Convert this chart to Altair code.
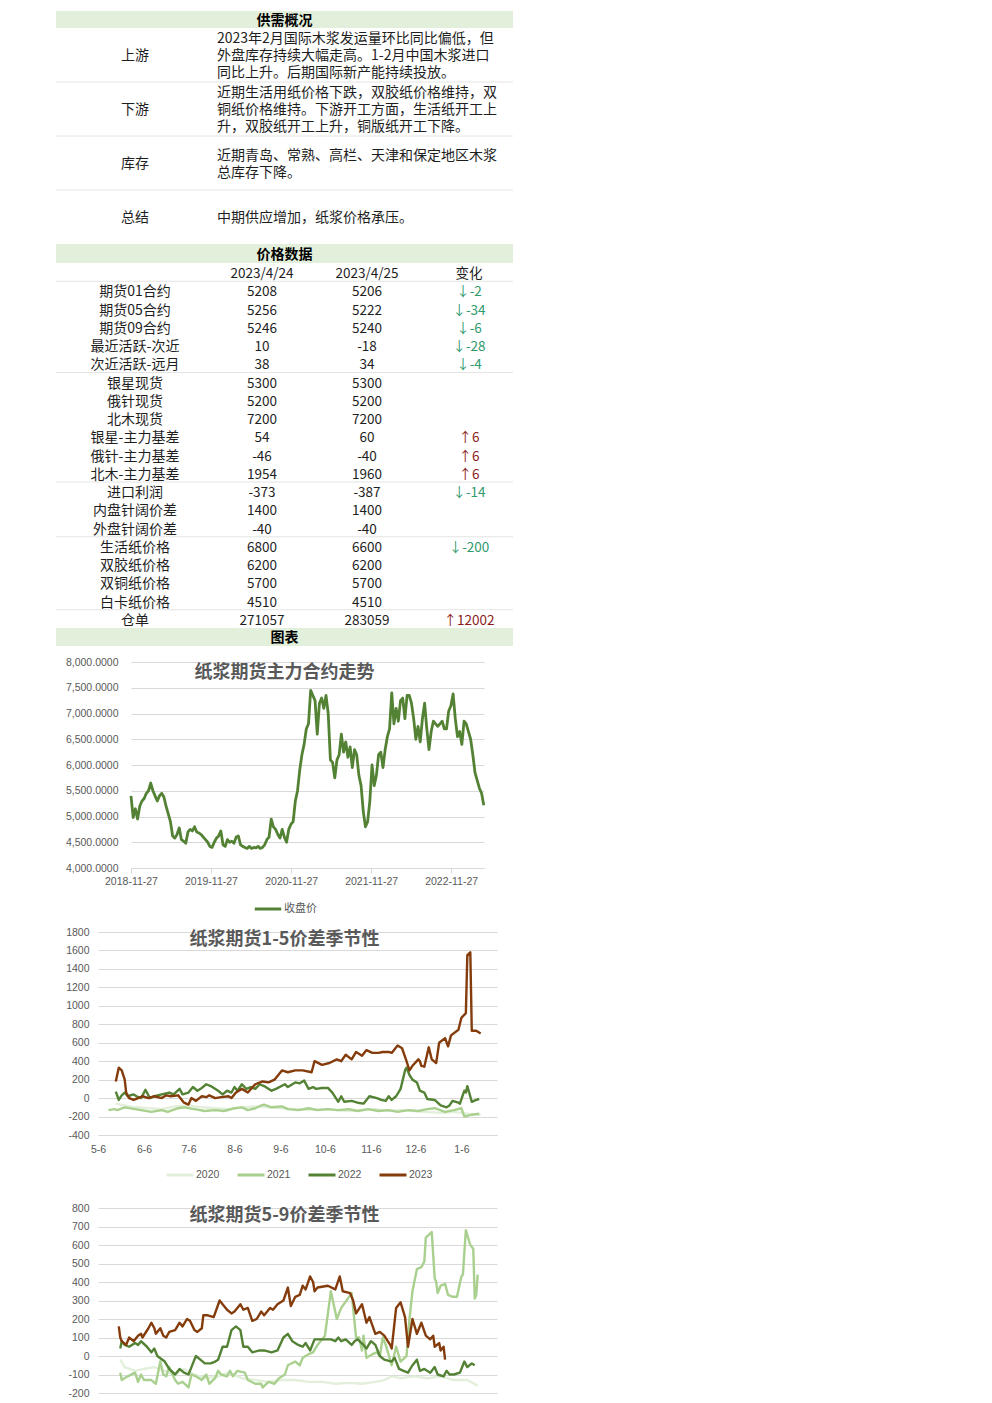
import altair as alt
import pandas as pd

W = 457
FONT = "Noto Sans CJK SC"
NUMFONT = "Liberation Sans"
TXT = "#1e1e1e"
HDR_FILL = "#e2efda"
SEP = "#e4e4e4"
GRID = "#d9d9d9"
AXTXT = "#595959"
GREEN_UP = "#8b1a1a"
GREEN_DN = "#2f9a6c"
LINE_H = 17

# ---------------- section titles ----------------
sec_titles = ["供需概况", "价格数据", "图表"]

# ---------------- supply / demand ----------------
sd_labels = ["上游", "下游", "库存", "总结"]
sd_texts = [
    "2023年2月国际木浆发运量环比同比偏低，但\n外盘库存持续大幅走高。1-2月中国木浆进口\n同比上升。后期国际新产能持续投放。",
    "近期生活用纸价格下跌，双胶纸价格维持，双\n铜纸价格维持。下游开工方面，生活纸开工上\n升，双胶纸开工上升，铜版纸开工下降。",
    "近期青岛、常熟、高栏、天津和保定地区木浆\n总库存下降。",
    "中期供应增加，纸浆价格承压。",
]

# ---------------- price table ----------------
price_head = ["2023/4/24", "2023/4/25", "变化"]
price_names = ["期货01合约", "期货05合约", "期货09合约", "最近活跃-次近", "次近活跃-远月",
               "银星现货", "俄针现货", "北木现货", "银星-主力基差", "俄针-主力基差",
               "北木-主力基差", "进口利润", "内盘针阔价差", "外盘针阔价差", "生活纸价格",
               "双胶纸价格", "双铜纸价格", "白卡纸价格", "仓单"]
price_0424 = [5208, 5256, 5246, 10, 38, 5300, 5200, 7200, 54, -46, 1954, -373, 1400, -40,
              6800, 6200, 5700, 4510, 271057]
price_0425 = [5206, 5222, 5240, -18, 34, 5300, 5200, 7200, 60, -40, 1960, -387, 1400, -40,
              6600, 6200, 5700, 4510, 283059]
price_chg = [-2, -34, -6, -28, -4, None, None, None, 6, 6, 6, -14, None, None, -200,
             None, None, None, 12002]
sep_after = [0, 5, 11, 14, 18]   # row index (0 = header row) followed by a divider

# ---------------- chart 1: main contract close ----------------
main_start = "2018-11-27"
main_close = [
    5400, 4980, 5150, 4950, 5200, 5300, 5350, 5450, 5500, 5650,
    5500, 5400, 5300, 5400, 5450, 5380, 5200, 5050, 4900, 4620,
    4580, 4650, 4780, 4550, 4520, 4480, 4700, 4750, 4720, 4800,
    4700, 4680, 4650, 4600, 4550, 4500, 4420, 4400, 4500, 4580,
    4620, 4720, 4450, 4420, 4550, 4500, 4520, 4480, 4600, 4620,
    4450, 4420, 4400, 4380, 4420, 4380, 4400, 4390, 4420, 4380,
    4400, 4450, 4550, 4600, 4950, 4800, 4750, 4650, 4580, 4750,
    4600, 4500, 4750, 4850, 4900, 5300, 5500, 5900, 6200, 6400,
    6700, 6800, 7450, 7350, 7250, 6600, 7200, 7300, 7100, 7350,
    7000, 6100, 6050, 5750, 6100, 6200, 6600, 6250, 6450, 6150,
    6350, 5950, 6300, 6200, 5800, 5600, 5100, 4800, 4900, 5300,
    6000, 5600, 5800, 6200, 6250, 5950, 6300, 6550, 6700, 7400,
    6800, 7100, 6850, 7250, 7300, 6900, 7350, 7350, 7200, 6900,
    6500, 6750, 6450, 6900, 7200, 6700, 6300, 6650, 6850, 6800,
    6750, 6800, 6850, 6700, 6700, 7050, 7150, 7380, 6900, 6550,
    6650, 6400, 6850, 6800, 6650, 6500, 6200, 5850, 5700, 5550,
    5450, 5220,
]
main_xticks = ["2018-11-27", "2019-11-27", "2020-11-27", "2021-11-27", "2022-11-27"]
main_yticks = [4000, 4500, 5000, 5500, 6000, 6500, 7000, 7500, 8000]

# ---------------- seasonal charts (x = days after 5-6) ----------------
season_years = ["2020", "2021", "2022", "2023"]
season_colors = ["#e2efda", "#a9d08e", "#548235", "#843c0c"]
season_tick_days = [0, 31, 61, 92, 123, 153, 184, 214, 245]
season_tick_labels = ["5-6", "6-6", "7-6", "8-6", "9-6", "10-6", "11-6", "12-6", "1-6"]

s15 = {
    "2020": ([12, 18, 25, 34, 43, 52, 61, 70, 79, 88, 97, 106, 115, 124, 133, 142, 151, 160, 169, 178,
              187, 196, 204, 213, 222, 231, 240, 249, 258],
             [-60, -80, -100, -110, -120, -90, -80, -100, -110, -120, -100, -90, -100, -110, -120, -130,
              -120, -130, -140, -130, -120, -140, -130, -140, -150, -160, -150, -170, -180]),
    "2021": ([7, 11, 13, 18, 25, 29, 36, 43, 47, 54, 58, 65, 72, 79, 85, 92, 97, 101, 106, 110,
              112, 117, 124, 128, 135, 142, 148, 155, 162, 169, 175, 182, 189, 196, 202, 209, 216, 222,
              227, 234, 240, 245, 247, 252, 257],
             [-130, -120, -130, -100, -120, -130, -150, -130, -150, -110, -100, -120, -140, -130, -140,
              -110, -100, -130, -110, -80, -70, -100, -90, -120, -130, -110, -130, -120, -130, -120,
              -140, -120, -140, -130, -150, -130, -140, -120, -110, -150, -130, -110, -200, -180, -170]),
    "2022": ([12, 14, 16, 18, 20, 24, 26, 29, 32, 35, 38, 43, 48, 51, 55, 57, 61, 64, 67, 70,
              73, 76, 81, 84, 87, 90, 92, 94, 97, 100, 103, 106, 109, 112, 117, 120, 126, 128, 133, 136,
              138, 139, 142, 145, 147, 151, 155, 158, 162, 164, 166, 171, 175, 179, 183, 188, 191, 194,
              196, 198, 201, 204, 207, 208, 210, 212, 215, 217, 220, 222, 227, 231, 235, 237, 239, 243,
              244, 247, 248, 249, 252, 255, 257],
             [70, -20, 30, 60, 20, 40, 20, 0, 90, 0, 20, 40, 60, 40, 100, 40, 60, 120, 80, 110,
              150, 130, 80, 40, 80, 60, 120, 80, 150, 100, 120, 100, 150, 130, 80, 100, 150, 120, 170, 160,
              180, 190, 100, 120, 100, 110, 110, 60, -40, 20, -40, -30, -50, -60, 20, 0, -20, -30, 20, -20,
              20, 100, 300, 330, 250, 200, 170, 80, 60, -10, -20, -80, -100, -80, -30, -50, -60, 80, 60, 130,
              -40, -20, -10]),
    "2023": ([12, 14, 16, 18, 19, 21, 24, 27, 30, 34, 38, 43, 46, 49, 54, 58, 61, 63, 66, 70,
              73, 75, 79, 83, 88, 90, 93, 97, 101, 106, 111, 115, 119, 124, 128, 133, 138, 144, 146, 151,
              156, 161, 164, 167, 171, 174, 178, 181, 185, 189, 192, 196, 198, 202, 205, 208, 210, 212,
              216, 217, 218, 220, 223, 225, 228, 230, 234, 236, 238, 243, 245, 248, 249, 251, 252, 255, 258],
             [180, 330, 300, 200, 60, 0, -20, 0, 20, 0, 20, 0, 30, 20, 30, -50, -70, 0, -30, 20,
              10, 30, 0, 10, 20, 0, 60, 100, 60, 150, 180, 170, 200, 300, 280, 300, 300, 280, 400, 360,
              380, 420, 400, 470, 420, 500, 460, 520, 490, 490, 500, 500, 490, 570, 540, 400, 300, 350,
              420, 400, 350, 340, 550, 420, 380, 600, 650, 560, 680, 740, 870, 920, 1550, 1580, 730, 730, 700]),
}
s15_yticks = [-400, -200, 0, 200, 400, 600, 800, 1000, 1200, 1400, 1600, 1800]

s59 = {
    "2020": ([15, 18, 25, 31, 38, 45, 52, 58, 65, 72, 81, 88, 97, 106, 115, 124, 133, 142, 151, 160,
              169, 178, 187, 193, 198, 204, 213, 222, 231, 240, 249, 256],
             [-20, -60, -80, -70, -60, -80, -100, -70, -100, -120, -110, -90, -120, -130, -140, -130,
              -130, -140, -140, -150, -145, -150, -140, -130, -110, -120, -110, -120, -110, -130, -130, -160]),
    "2021": ([15, 16, 20, 25, 27, 29, 31, 36, 39, 42, 44, 46, 48, 52, 54, 57, 61, 63, 66, 70,
              73, 75, 79, 81, 83, 87, 89, 91, 94, 99, 101, 106, 110, 111, 115, 119, 122, 126, 128, 133,
              136, 138, 142, 145, 148, 153, 157, 161, 164, 171, 174, 176, 178, 179, 181, 185, 188, 190,
              192, 194, 198, 201, 204, 208, 210, 212, 215, 218, 220, 221, 225, 227, 228, 229, 231, 234,
              236, 239, 242, 245, 246, 248, 251, 253, 254, 255, 256],
             [-90, -130, -110, -90, -140, -100, -130, -130, -150, -30, -100, -110, -60, -130, -150, -140,
              -170, -100, -110, -130, -100, -150, -120, -80, -100, -110, -80, -110, -80, -90, -130, -150,
              -150, -170, -140, -150, -120, -100, -50, -30, -50, -10, 10, 20, 60, 110, 350, 200, 260, 340,
              100, 100, 30, 110, -10, 10, 20, 0, 100, 60, -50, 50, -30, 0, 200, 350, 470, 480, 510, 640,
              670, 420, 400, 340, 380, 390, 330, 320, 320, 430, 440, 680, 600, 580, 310, 330, 440]),
    "2022": ([15, 16, 18, 21, 25, 27, 29, 33, 36, 38, 40, 45, 48, 52, 55, 58, 61, 63, 66, 69,
              72, 76, 79, 81, 84, 87, 90, 93, 96, 98, 101, 104, 109, 112, 117, 121, 125, 128, 131, 135,
              138, 140, 143, 146, 151, 157, 160, 162, 164, 167, 171, 173, 175, 179, 181, 184, 187, 190,
              193, 198, 200, 203, 206, 209, 212, 215, 217, 220, 224, 227, 229, 233, 235, 237, 240, 244,
              247, 249, 252, 254],
             [40, 80, 60, 50, 70, 60, 80, 50, 20, 40, 0, -30, -70, -100, -70, -90, -100, -60, 0, -20,
              -40, -40, -30, -20, 50, 50, 140, 160, 140, 50, 50, 20, 30, 30, 20, 30, 100, 120, 80, 60,
              50, 70, 30, 90, 90, 90, 80, 100, 80, 90, 60, 80, 90, 60, 40, 80, 60, 0, -20, -30,
              -10, -70, -80, -90, -50, -20, -80, -70, -90, -60, -100, -110, -80, -100, -100, -90,
              -30, -60, -40, -50]),
    "2023": ([14, 15, 16, 19, 21, 24, 27, 29, 30, 34, 36, 38, 39, 42, 44, 46, 48, 52, 55, 57,
              60, 62, 65, 67, 70, 71, 74, 78, 82, 84, 87, 90, 92, 96, 98, 101, 104, 107, 110, 112,
              116, 118, 121, 125, 128, 130, 133, 136, 138, 140, 143, 145, 146, 148, 155, 160, 163, 165,
              170, 172, 174, 178, 181, 183, 187, 190, 193, 197, 198, 201, 204, 207, 209, 212, 215, 218,
              221, 224, 226, 227, 230, 231, 233, 234],
             [160, 100, 80, 60, 100, 80, 110, 120, 100, 150, 180, 150, 120, 150, 110, 100, 130, 140, 180, 160,
              200, 190, 140, 130, 150, 220, 220, 210, 300, 280, 250, 230, 240, 280, 250, 260, 190, 200, 240, 220,
              260, 250, 280, 300, 370, 270, 320, 330, 380, 360, 430, 400, 350, 370, 380, 360, 430, 350,
              340, 300, 230, 280, 180, 210, 120, 130, 110, 60, 40, 260, 290, 210, 50, 200, 120, 180,
              110, 90, 110, 50, 70, 30, 50, -20]),
}
s59_yticks = [-200, -100, 0, 100, 200, 300, 400, 500, 600, 700, 800]

chart_titles = ["纸浆期货主力合约走势", "纸浆期货1-5价差季节性", "纸浆期货5-9价差季节性"]


# ======================================================================
def header(title, h):
    return alt.Chart(pd.DataFrame({"t": [title]})).mark_text(
        font=FONT, fontSize=14, fontWeight="bold", color="#000000", align="center", baseline="middle"
    ).encode(x=alt.value(W / 2), y=alt.value(h / 2 + 1), text="t:N").properties(
        width=W, height=h, view=alt.ViewBackground(fill=HDR_FILL, stroke=None))


# ---- supply / demand table
sd_df = pd.DataFrame({"row": sd_labels, "content": sd_texts,
                      "nlines": [t.count("\n") + 1 for t in sd_texts]})
sd_scale = alt.Scale(domain=sd_labels, paddingInner=0, paddingOuter=0)
sd_y = alt.Y("row:N", scale=sd_scale, axis=None, bandPosition=0.5)
sd_lab = alt.Chart(sd_df).mark_text(font=FONT, fontSize=14, color=TXT, align="center", baseline="middle",
                                    dy=1).encode(x=alt.value(79), y=sd_y, text="row:N")
sd_layers = [alt.Chart(sd_df).mark_rule(color=SEP, strokeWidth=1).transform_filter(
    alt.datum.row != sd_labels[-1]).encode(
    x=alt.value(0), x2=alt.value(W), y=alt.Y("row:N", scale=sd_scale, axis=None, bandPosition=1)), sd_lab]
for n in sorted(set(sd_df["nlines"])):
    sd_layers.append(
        alt.Chart(sd_df).transform_filter(alt.datum.nlines == n).mark_text(
            font=FONT, fontSize=14, color=TXT, align="left", baseline="middle",
            lineBreak="\n", lineHeight=LINE_H, dy=-(n - 1) * LINE_H / 2 + 1).encode(
            x=alt.value(161), y=sd_y, text="content:N"))
sd_table = alt.layer(*sd_layers).properties(width=W, height=216)

# ---- price table
rows = [{"r": 0, "label": "", "c1": price_head[0], "c2": price_head[1], "chg": price_head[2], "sign": "none"}]
for i, name in enumerate(price_names):
    c = price_chg[i]
    if c is None:
        t, s = "", "none"
    elif c > 0:
        t, s = "↑" + str(c), "up"
    else:
        t, s = "↓" + str(c), "down"
    rows.append({"r": i + 1, "label": name, "c1": str(price_0424[i]), "c2": str(price_0425[i]), "chg": t, "sign": s})
pt_df = pd.DataFrame(rows)
pt_y = alt.Y("r:O", scale=alt.Scale(paddingInner=0, paddingOuter=0), axis=None, bandPosition=0.5)
pt_base = alt.Chart(pt_df)
pt_lab = pt_base.mark_text(font=FONT, fontSize=14, color=TXT, align="center", baseline="middle", dy=2).encode(
    x=alt.value(79), y=pt_y, text="label:N")
pt_c1 = pt_base.mark_text(font=FONT, fontSize=13.5, color=TXT, align="center", baseline="middle", dy=2).encode(
    x=alt.value(206), y=pt_y, text="c1:N")
pt_c2 = pt_base.mark_text(font=FONT, fontSize=13.5, color=TXT, align="center", baseline="middle", dy=2).encode(
    x=alt.value(311), y=pt_y, text="c2:N")
pt_chg = pt_base.mark_text(font=FONT, fontSize=13.5, align="center", baseline="middle", dy=2).encode(
    x=alt.value(413), y=pt_y, text="chg:N",
    color=alt.Color("sign:N", scale=alt.Scale(domain=["up", "down", "none"], range=[GREEN_UP, GREEN_DN, TXT]),
                    legend=None))
pt_sep = alt.Chart(pd.DataFrame({"r": sep_after})).mark_rule(color=SEP, strokeWidth=1).encode(
    x=alt.value(0), x2=alt.value(W),
    y=alt.Y("r:O", scale=alt.Scale(paddingInner=0, paddingOuter=0), axis=None, bandPosition=1))
price_table = alt.layer(pt_sep, pt_lab, pt_c1, pt_c2, pt_chg).properties(width=W, height=365)


def dt(s):
    y, m, d = (int(v) for v in s.split("-"))
    return alt.DateTime(year=y, month=m, date=d)


def title_layer(text, y):
    return alt.Chart(pd.DataFrame({"t": [text]})).mark_text(
        font=FONT, fontSize=18, fontWeight="bold", color=AXTXT, align="center", baseline="middle"
    ).encode(x=alt.value(W / 2), y=alt.value(y), text="t:N")


# ---- chart 1
H1 = 274
df1 = pd.DataFrame({
    "date": pd.date_range(main_start, periods=len(main_close), freq="10D"),
    "close": main_close,
    "s": ["收盘价"] * len(main_close),
})
line1 = alt.Chart(df1).mark_line(strokeWidth=2.8, strokeJoin="round").encode(
    x=alt.X("date:T", title=None,
            scale=alt.Scale(domain=[dt("2018-11-27"), dt("2023-04-26")], range=[75, 428]),
            axis=alt.Axis(values=[dt(s) for s in main_xticks], format="%Y-%m-%d", offset=-52,
                          domainColor=GRID, tickColor=GRID, tickSize=5, labelPadding=3, grid=False,
                          labelFlush=False, labelOverlap=False,
                          labelFont=NUMFONT, labelFontSize=10.5, labelColor=AXTXT)),
    y=alt.Y("close:Q", title=None, scale=alt.Scale(domain=[4000, 8000], range=[222, 16], zero=False),
            axis=alt.Axis(values=main_yticks, format=",.4f", offset=-75, domain=False, ticks=False,
                          labelPadding=13, gridColor=GRID, labelFont=NUMFONT, labelFontSize=10.5,
                          labelColor=AXTXT)),
    color=alt.Color("s:N", scale=alt.Scale(domain=["收盘价"], range=["#548235"]),
                    legend=alt.Legend(orient="none", legendX=197, legendY=248, title=None,
                                      symbolType="stroke", symbolSize=700, symbolStrokeWidth=3,
                                      labelFont=FONT, labelFontSize=11, labelColor=AXTXT, labelOffset=1)),
)
chart1 = alt.layer(line1, title_layer(chart_titles[0], 27)).properties(width=W, height=H1)


# ---- seasonal helper
def season_df(d):
    recs = []
    for yr in season_years:
        days, vals = d[yr]
        for dd, vv in zip(days, vals):
            recs.append({"day": dd, "v": vv, "year": yr})
    return pd.DataFrame(recs)


label_expr = "".join(f"datum.value == {d} ? '{l}' : " for d, l in zip(season_tick_days, season_tick_labels)) + "''"


def season_chart(d, yticks, ydom, yrange, h, title, title_y, show_x, show_legend):
    xaxis = alt.Axis(values=season_tick_days, labelExpr=label_expr, offset=-(h - yrange[0]),
                     domainColor=GRID, ticks=False, labelPadding=9, grid=False, labelFlush=False,
                     labelOverlap=False,
                     labelFont=NUMFONT, labelFontSize=10.5, labelColor=AXTXT) if show_x else None
    legend = alt.Legend(orient="none", legendX=109, legendY=240, title=None, direction="horizontal",
                        symbolType="stroke", symbolSize=729, symbolStrokeWidth=3, columnPadding=11,
                        labelFont=NUMFONT, labelFontSize=10.5, labelColor=AXTXT, labelOffset=1) if show_legend else None
    line = alt.Chart(season_df(d)).mark_line(strokeWidth=2.4, strokeJoin="round").encode(
        x=alt.X("day:Q", title=None, scale=alt.Scale(domain=[0, 269], range=[42, 441], zero=False, nice=False),
                axis=xaxis),
        y=alt.Y("v:Q", title=None, scale=alt.Scale(domain=ydom, range=list(yrange), zero=False, nice=False),
                axis=alt.Axis(values=yticks, labelExpr="datum.value + ''", offset=-42, domain=False,
                              ticks=False, labelPadding=9, gridColor=GRID, labelFont=NUMFONT,
                              labelFontSize=10.5, labelColor=AXTXT)),
        color=alt.Color("year:N", scale=alt.Scale(domain=season_years, range=season_colors), legend=legend),
    )
    return alt.layer(line, title_layer(title, title_y)).properties(width=W, height=h)


chart2 = season_chart(s15, s15_yticks, [-400, 1800], (215, 12), 275, chart_titles[1], 20, True, True)
chart3 = season_chart(s59, s59_yticks, [-200, 800], (198, 13), 198, chart_titles[2], 21, False, False)

chart = alt.vconcat(
    header(sec_titles[0], 17), sd_table,
    header(sec_titles[1], 19), price_table,
    header(sec_titles[2], 18),
    chart1, chart2, chart3,
    spacing=0,
).resolve_scale(color="independent").properties(
    padding={"left": 47, "top": 3, "right": 0, "bottom": 0}
).configure_view(stroke=None)

chart.save("out.html", embed_options={"renderer": "svg", "actions": False})
